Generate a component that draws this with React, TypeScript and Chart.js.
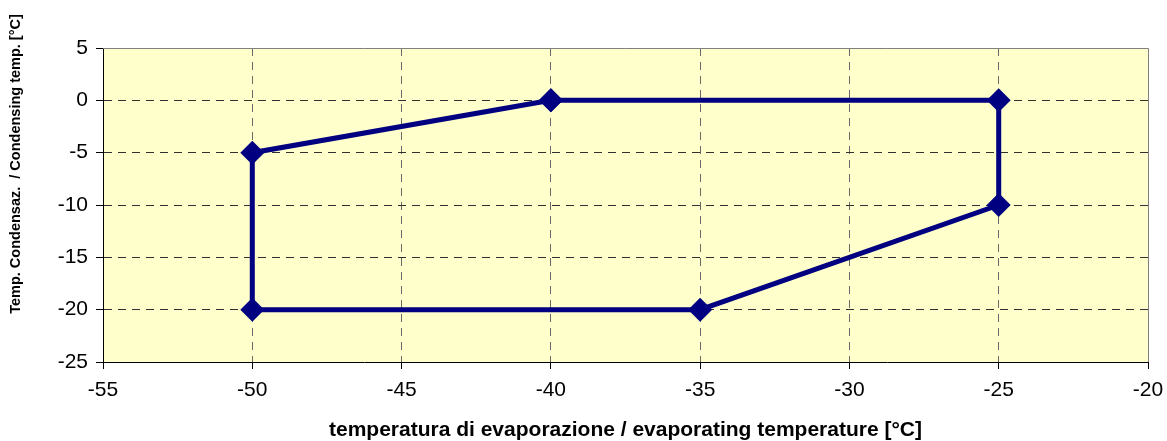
import React, { useEffect, useRef } from "react";
import { Chart, registerables } from "chart.js";

Chart.register(...registerables);

const evapTemps = [-40, -25, -25, -35, -50, -50, -40];
const condTemps = [0, 0, -10, -20, -20, -5, 0];
const xTicks = [-55, -50, -45, -40, -35, -30, -25, -20];
const yTicks = [5, 0, -5, -10, -15, -20, -25];
const xTitle = "temperatura di evaporazione / evaporating temperature [°C]";
const yTitle = "Temp. Condensaz.  / Condensing temp. [°C]";

const FONT = "'Liberation Sans', Arial, sans-serif";

export default function App() {
  const ref = useRef<HTMLCanvasElement | null>(null);
  useEffect(() => {
    document.body.style.margin = "0";
    const canvas = ref.current!;
    const bgPlugin = {
      id: "bg",
      beforeDraw(chart: any) {
        const { ctx, chartArea: a } = chart;
        ctx.save();
        ctx.fillStyle = "#FFFFCC";
        ctx.fillRect(a.left, a.top, a.right - a.left, a.bottom - a.top);
        ctx.restore();
      },
      afterDraw(chart: any) {
        const { ctx, chartArea: a } = chart;
        ctx.save();
        ctx.strokeStyle = "#808080";
        ctx.lineWidth = 1;
        ctx.beginPath();
        ctx.moveTo(a.left, a.top + 0.5);
        ctx.lineTo(a.right + 0.5, a.top + 0.5);
        ctx.lineTo(a.right + 0.5, a.bottom);
        ctx.stroke();
        ctx.translate(16, 164);
        ctx.rotate(-Math.PI / 2);
        ctx.fillStyle = "#000";
        ctx.font = `bold 14.5px ${FONT}`;
        ctx.textAlign = "center";
        ctx.textBaseline = "middle";
        ctx.fillText(yTitle, 0, 0);
        ctx.restore();
      },
    };
    const chart = new Chart(canvas, {
      type: "scatter",
      data: {
        datasets: [
          {
            data: evapTemps.map((x, i) => ({ x, y: condTemps[i] })),
            showLine: true,
            borderColor: "#000080",
            backgroundColor: "#000080",
            borderWidth: 5,
            pointStyle: "rectRot",
            pointRadius: 12,
            pointBorderWidth: 0,
            tension: 0,
          },
        ],
      },
      options: {
        responsive: false,
        animation: false,
        layout: { padding: { top: 48, right: 19, left: 0, bottom: 0 } },
        plugins: { legend: { display: false }, tooltip: { enabled: false } },
        scales: {
          x: {
            type: "linear",
            min: -55,
            max: -20,
            afterBuildTicks: (s: any) => {
              s.ticks = xTicks.map((v) => ({ value: v }));
            },
            afterFit: (s: any) => {
              s.height = 79;
              s.paddingLeft = 0;
              s.paddingRight = 0;
            },
            ticks: {
              color: "#000",
              font: { family: FONT, size: 21 },
              padding: 9,
              maxRotation: 0,
              autoSkip: false,
            },
            grid: {
              color: (c: any) =>
                c.tick && (c.tick.value === -55 || c.tick.value === -20) ? "rgba(0,0,0,0)" : "#6a6a6a",
              tickColor: "#000",
              tickBorderDash: [],
              tickLength: 7,
              drawTicks: true,
            },
            border: { display: true, color: "#000", width: 1, dash: [8, 6] },
            title: {
              display: true,
              text: xTitle,
              color: "#000",
              font: { family: FONT, size: 21, weight: "bold" },
              padding: { top: 0, bottom: -2 },
            },
          },
          y: {
            type: "linear",
            min: -25,
            max: 5,
            afterBuildTicks: (s: any) => {
              s.ticks = yTicks.map((v) => ({ value: v }));
            },
            afterFit: (s: any) => {
              s.width = 103;
              s.paddingTop = 0;
              s.paddingBottom = 0;
            },
            ticks: {
              color: "#000",
              font: { family: FONT, size: 21 },
              padding: 8,
              autoSkip: false,
            },
            grid: {
              color: (c: any) =>
                c.tick && (c.tick.value === 5 || c.tick.value === -25) ? "rgba(0,0,0,0)" : "#303030",
              tickColor: "#000",
              tickBorderDash: [],
              tickLength: 7,
            },
            border: { display: true, color: "#000", width: 1, dash: [8, 6] },
          },
        },
      },
      plugins: [bgPlugin],
    } as any);
    return () => chart.destroy();
  }, []);
  return <canvas ref={ref} width={1167} height={441} style={{ display: "block" }} />;
}
